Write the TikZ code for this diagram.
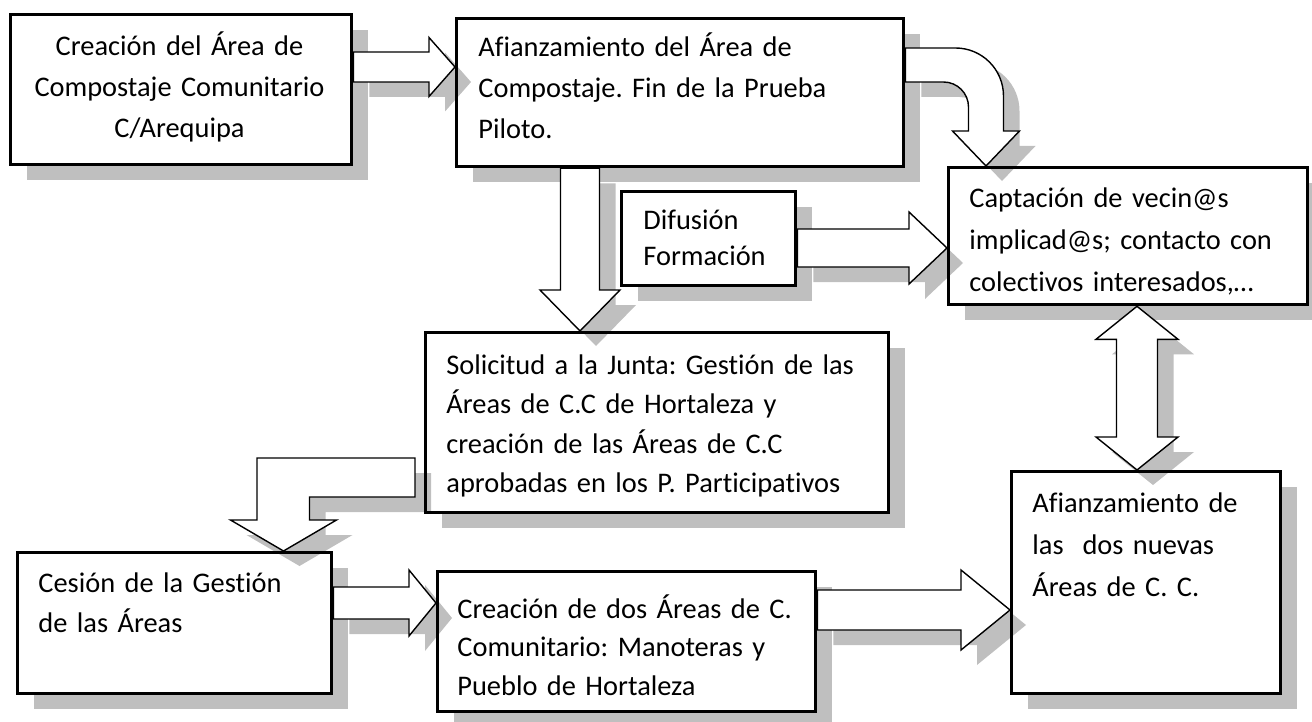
\documentclass[tikz,border=0pt]{standalone}
\usepackage{fontspec}
\setmainfont{Carlito}[Ligatures=NoCommon]
\frenchspacing
\usetikzlibrary{calc,shadows}

\newcommand{\blockarrow}[5]{%
  \coordinate (hb) at ($(#2)!#5!(#1)$);
  \draw[arrowbox] ($(#1)!#3!90:(#2)$) -- ($(hb)!#3!-90:(#1)$) -- ($(hb)!#4!-90:(#1)$) -- (#2)
    -- ($(hb)!#4!90:(#1)$) -- ($(hb)!#3!90:(#1)$) -- ($(#1)!#3!-90:(#2)$) -- cycle;}

\newcommand{\twoarrow}[5]{%
  \coordinate (hb1) at ($(#1)!#5!(#2)$);
  \coordinate (hb2) at ($(#2)!#5!(#1)$);
  \draw[arrowbox] (#1) -- ($(hb1)!#4!90:(#2)$) -- ($(hb1)!#3!90:(#2)$) -- ($(hb2)!#3!-90:(#1)$)
    -- ($(hb2)!#4!-90:(#1)$) -- (#2) -- ($(hb2)!#4!90:(#1)$) -- ($(hb2)!#3!90:(#1)$)
    -- ($(hb1)!#3!-90:(#2)$) -- ($(hb1)!#4!-90:(#2)$) -- cycle;}

\begin{document}
\begin{tikzpicture}
  [x=0.5pt,y=-0.5pt,
   softshadow/.style={general shadow={fill=black,draw=none,opacity=0.25,shadow xshift=8pt,shadow yshift=-7.5pt}},
   box/.style={draw,line width=1.65pt,fill=white,inner sep=0pt,anchor=north west,softshadow},
   arrowbox/.style={draw,line width=0.7pt,fill=white,line join=miter,softshadow},
   txt/.style={inner sep=0pt,anchor=base west,align=left,text width=250pt,font=\fontsize{14.2pt}{#1}\selectfont}]

  \useasboundingbox[fill=white] (0,0) rectangle (1312,722);

  \node[box,minimum width=170.5pt,minimum height=75pt] (A) at (9,13) {};
  \node[box,minimum width=223.5pt,minimum height=74pt] (B) at (455,17) {};
  \node[box,minimum width=87pt,minimum height=47pt] (C) at (620,190) {};
  \node[box,minimum width=179.5pt,minimum height=68.5pt] (D) at (947,166) {};
  \node[box,minimum width=231.5pt,minimum height=90pt] (E) at (424,331) {};
  \node[box,minimum width=157pt,minimum height=70.5pt] (F) at (16,551) {};
  \node[box,minimum width=189pt,minimum height=70pt] (G) at (436,570) {};
  \node[box,minimum width=134.5pt,minimum height=111pt] (H) at (1010,470) {};

  \node[txt=20.5pt,anchor=base,align=center,text width=168pt] (A-t) at (179.5,56) {Creación del Área de\\Compostaje Comunitario\\C/Arequipa};
  \node[txt=20.5pt] (B-t) at (478,57) {Afianzamiento del Área de\\Compostaje. Fin de la Prueba\\Piloto.};
  \node[txt=18pt] (C-t) at (643,229) {Difusión\\Formación};
  \node[txt=21pt] (D-t) at (969,207) {Captación de vecin@s\\implicad@s; contacto con\\colectivos interesados,…};
  \node[txt=19.75pt] (E-t) at (446,374) {Solicitud a la Junta: Gestión de las\\Áreas de C.C de Hortaleza y\\creación de las Áreas de C.C\\aprobadas en los P. Participativos};
  \node[txt=20pt] (F-t) at (38,592) {Cesión de la Gestión\\de las Áreas};
  \node[txt=19.25pt] (G-t) at (457,618) {Creación de dos Áreas de C.\\Comunitario: Manoteras y\\Pueblo de Hortaleza};
  \node[txt=21pt] (H-t) at (1032,512) {Afianzamiento de\\las\ \ dos nuevas\\Áreas de C. C.};

  \coordinate (ab-s) at (A.east |- 0,67);
  \coordinate (ab-e) at (B.west |- 0,67);
  \coordinate (be-s) at (B.south -| 580,0);
  \coordinate (be-e) at (E.north -| 580,0);
  \coordinate (cd-s) at (C.east |- 0,248);
  \coordinate (cd-e) at (D.west |- 0,248);
  \coordinate (fg-s) at (F.east |- 0,603);
  \coordinate (fg-e) at (G.west |- 0,603);
  \coordinate (gh-s) at (G.east |- 0,610);
  \coordinate (gh-e) at (H.west |- 0,610);
  \foreach \s/\e/\w/\h/\l in {ab-s/ab-e/7.5pt/14.75pt/13pt,be-s/be-e/9.75pt/20pt/20.5pt,cd-s/cd-e/9.5pt/18pt/19pt,fg-s/fg-e/8pt/16.5pt/13.5pt,gh-s/gh-e/10pt/20pt/24.5pt}
    \blockarrow{\s}{\e}{\w}{\h}{\l};

  \coordinate (dh-s) at (D.south -| 1137,0);
  \coordinate (dh-e) at (H.north -| 1137,0);
  \twoarrow{dh-s}{dh-e}{10.25pt}{20.5pt}{16.5pt}

  \coordinate (bd-s) at (B.east |- 0,65);
  \coordinate (bd-e) at (D.north -| 986,0);
  \coordinate (bd-c) at (bd-e |- bd-s);
  \draw[arrowbox] ($(bd-s)+(0,-17)$) -- ($(bd-c)+(-30.5,-17)$)
    .. controls ($(bd-c)+(-4,-17)$) and ($(bd-c)+(17.5,4.5)$) .. ($(bd-c)+(17.5,31)$)
    -- ($(bd-e)+(17.5,-35)$) -- ($(bd-e)+(33.5,-35)$) -- (bd-e) -- ($(bd-e)+(-33.5,-35)$)
    -- ($(bd-e)+(-17.5,-35)$) -- ($(bd-c)+(-17.5,42)$)
    .. controls ($(bd-c)+(-17.5,28.2)$) and ($(bd-c)+(-28.7,17)$) .. ($(bd-c)+(-42.5,17)$)
    -- ($(bd-s)+(0,17)$) -- cycle;

  \coordinate (ef-s) at ($(E.west |- 0,477.5)+(-9,0)$);
  \coordinate (ef-e) at (F.north -| 283.5,0);
  \coordinate (ef-c) at (ef-e |- ef-s);
  \draw[arrowbox] ($(ef-s)+(0,-19.5)$) -- ($(ef-c)+(-26.5,-19.5)$) -- ($(ef-e)+(-26.5,-31)$)
    -- ($(ef-e)+(-53,-31)$) -- (ef-e) -- ($(ef-e)+(53,-31)$) -- ($(ef-e)+(26,-31)$)
    -- ($(ef-c)+(26,19.5)$) -- ($(ef-s)+(0,19.5)$) -- cycle;
\end{tikzpicture}
\end{document}
